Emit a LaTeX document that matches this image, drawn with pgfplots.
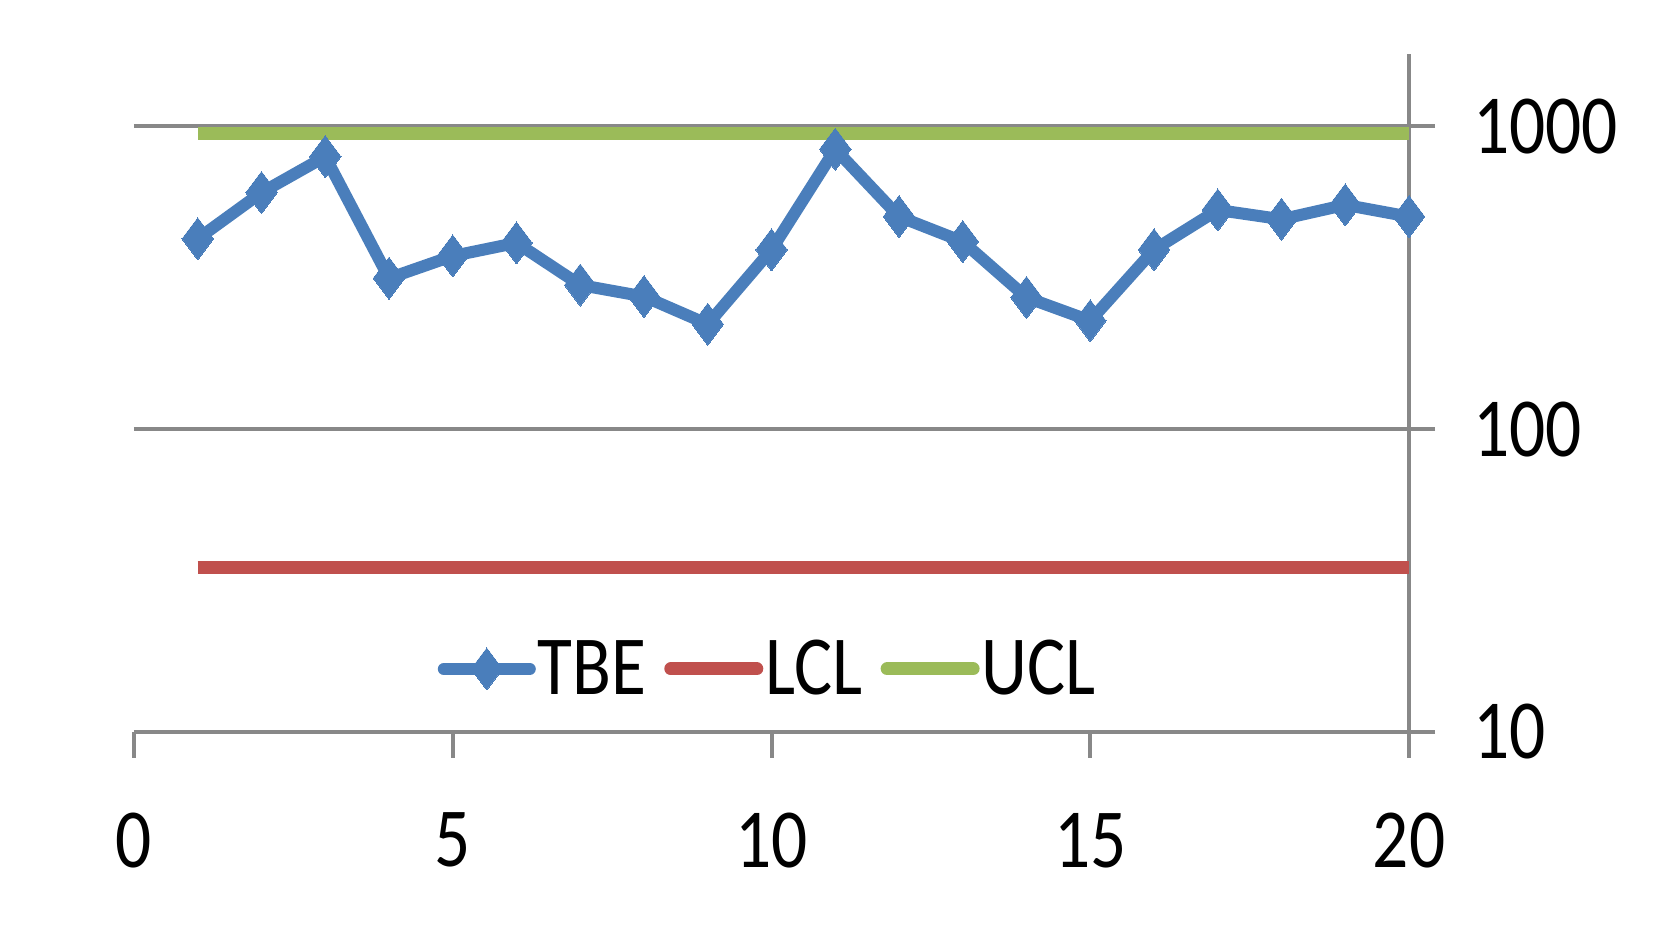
\documentclass[border=0pt]{standalone}
\usepackage{fontspec}
\setmainfont[FakeStretch=0.85]{Carlito}
\usepackage{pgfplots}
\pgfplotsset{compat=1.18}
\definecolor{tbeblue}{HTML}{4A7EBB}
\definecolor{lclred}{HTML}{C0504D}
\definecolor{uclgreen}{HTML}{9BBB59}
\definecolor{axgray}{HTML}{888888}
\begin{document}
\begin{tikzpicture}
\useasboundingbox (-67pt,-99pt) rectangle (768pt,366pt);
\begin{axis}[
  at={(0pt,0pt)}, anchor=south west,
  scale only axis, width=637.5pt, height=339pt,
  xmin=0, xmax=20, ymode=log, ymin=10, ymax=1732,
  axis x line=bottom, axis y line=right,
  axis line style={-, draw=axgray, line width=2pt},
  xtick={0,5,10,15,20},
  ytick={10,100,1000}, yticklabels={10,100,1000},
  yminorticks=false, xminorticks=false,
  tick align=outside, major tick length=13pt,
  tick style={draw=axgray, line width=2pt},
  ymajorgrids, grid style={draw=axgray, line width=2pt},
  ticklabel style={font=\fontsize{42}{42}\selectfont, text=black},
  /pgf/number format/assume math mode=true,
  xticklabel style={anchor=north, yshift=-24pt},
  yticklabel style={anchor=west, xshift=15.5pt},
  legend columns=3,
  legend style={at={(0.497,0.093)}, anchor=center, draw=none, fill=none,
    font=\fontsize{42}{42}\selectfont, inner sep=0pt,
    nodes={inner xsep=1pt, inner ysep=0pt},
    /tikz/every even column/.append style={column sep=8pt}},
  legend image code/.code={\draw[mark repeat=2,mark phase=2, line cap=round] plot coordinates {(0pt,0pt) (21.5pt,0pt) (43pt,0pt)};},
]
\addplot[color=tbeblue, line width=6pt, mark=diamond*, mark size=10.5pt, mark options={solid, line width=0pt, fill=tbeblue}]
 coordinates {(1,425) (2,604) (3,794) (4,315) (5,373) (6,412) (7,299) (8,274) (9,222) (10,391)
 (11,840) (12,503) (13,416) (14,272) (15,228) (16,391) (17,529) (18,493) (19,550) (20,503)};
\addlegendentry{TBE}
\addplot[color=lclred, line width=6.5pt, mark=none]
 coordinates {(1,35) (2,35) (3,35) (4,35) (5,35) (6,35) (7,35) (8,35) (9,35) (10,35)
 (11,35) (12,35) (13,35) (14,35) (15,35) (16,35) (17,35) (18,35) (19,35) (20,35)};
\addlegendentry{LCL}
\addplot[color=uclgreen, line width=6.5pt, mark=none]
 coordinates {(1,948) (2,948) (3,948) (4,948) (5,948) (6,948) (7,948) (8,948) (9,948) (10,948)
 (11,948) (12,948) (13,948) (14,948) (15,948) (16,948) (17,948) (18,948) (19,948) (20,948)};
\addlegendentry{UCL}
\end{axis}
\end{tikzpicture}
\end{document}
